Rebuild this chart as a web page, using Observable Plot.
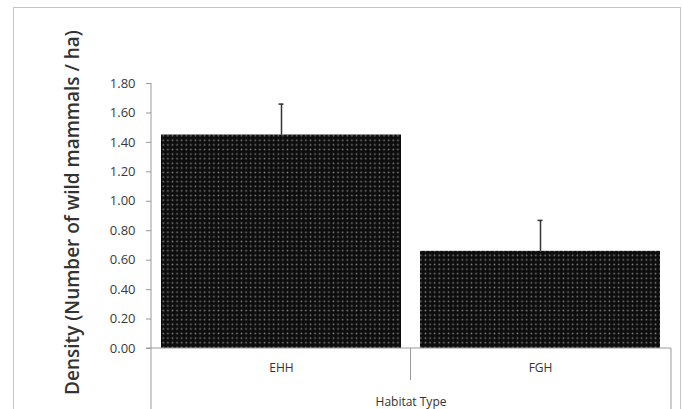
<!DOCTYPE html>
<html>
<head>
<meta charset="utf-8">
<script src="https://cdn.jsdelivr.net/npm/d3@7"></script>
<script src="https://cdn.jsdelivr.net/npm/@observablehq/plot@0.6"></script>
<style>
  html, body { margin: 0; padding: 0; background: #fff; }
  #chart { width: 683px; height: 409px; overflow: hidden; }
</style>
</head>
<body>
<div id="chart"></div>
<script>
const categories = ["EHH", "FGH"];
const densities = [1.45, 0.66];
const errors = [0.21, 0.21];
const yTicks = [0, 0.2, 0.4, 0.6, 0.8, 1.0, 1.2, 1.4, 1.6, 1.8];
const xTitle = "Habitat Type";
const yTitle = "Density (Number of wild mammals / ha)";

const data = categories.map((c, i) => ({cat: c, value: densities[i], err: errors[i]}));

const W = 683, H = 409;
const plot = Plot.plot({
  width: W,
  height: H,
  marginLeft: 151,
  marginRight: 12,
  marginTop: 83,
  marginBottom: 61,
  style: {fontFamily: "'Open Sans', sans-serif", background: "transparent", overflow: "visible"},
  x: {domain: categories, paddingInner: 0.073, paddingOuter: 0.0385, label: null},
  y: {domain: [0, 1.8], label: null},
  marks: [
    Plot.barY(data, {x: "cat", y: "value", fill: "url(#dots)"}),
    Plot.ruleX(data, {x: "cat", y1: "value", y2: d => d.value + d.err, stroke: "#333", strokeWidth: 1.5}),
    Plot.tickY(data, {x: "cat", y: d => d.value + d.err, stroke: "#333", strokeWidth: 1.5, insetLeft: 117.5, insetRight: 117.5}),
    Plot.axisY({ticks: yTicks, tickFormat: d3.format(".2f"), tickSize: 5, tickPadding: 11, fontSize: 13, color: "#3a3a3a", stroke: "#999", label: null}),
    Plot.axisX({tickSize: 0, tickPadding: 15, fontSize: 12, color: "#333", label: null})
  ]
});

const svg = d3.select(plot);
svg.attr("font-family", "'Open Sans', sans-serif");
// pattern for bar fill
const defs = svg.insert("defs", ":first-child");
const pat = defs.append("pattern").attr("id", "dots").attr("patternUnits", "userSpaceOnUse")
  .attr("width", 4.6).attr("height", 4.6);
pat.append("rect").attr("width", 4.6).attr("height", 4.6).attr("fill", "#0d0d0d");
pat.append("circle").attr("cx", 2.3).attr("cy", 2.3).attr("r", 0.9).attr("fill", "#7a7a7a");

const xs = plot.scale("x"), ys = plot.scale("y");
const x0 = xs.range[0], x1 = xs.range[1];
const yBase = ys.apply(0), yTop = ys.apply(1.8);
const mid = (xs.apply(categories[0]) + xs.bandwidth + xs.apply(categories[1])) / 2;

const g = svg.append("g").attr("stroke", "#9a9a9a").attr("fill", "none");
g.append("line").attr("x1", x0).attr("x2", x0).attr("y1", yTop).attr("y2", H);
g.append("line").attr("x1", x0 - 5).attr("x2", x1).attr("y1", yBase).attr("y2", yBase);
g.append("line").attr("x1", mid).attr("x2", mid).attr("y1", yBase).attr("y2", yBase + 32);
g.append("line").attr("x1", x1).attr("x2", x1).attr("y1", yBase).attr("y2", H);

// outer frame
svg.append("rect").attr("x", 13.5).attr("y", 7.5).attr("width", 667).attr("height", 420)
  .attr("fill", "none").attr("stroke", "#c4c4c4");

// axis titles
svg.append("text").attr("x", (x0 + x1) / 2).attr("y", yBase + 58).attr("text-anchor", "middle")
  .attr("font-size", 12).attr("fill", "#333").text(xTitle);
svg.append("text").attr("transform", `translate(72,${(yTop + yBase) / 2 - 3}) rotate(-90)`)
  .attr("text-anchor", "middle").attr("dy", "0.35em").attr("font-size", 19).attr("font-weight", 600)
  .attr("fill", "#333").text(yTitle);

document.getElementById("chart").appendChild(plot);
</script>
</body>
</html>
